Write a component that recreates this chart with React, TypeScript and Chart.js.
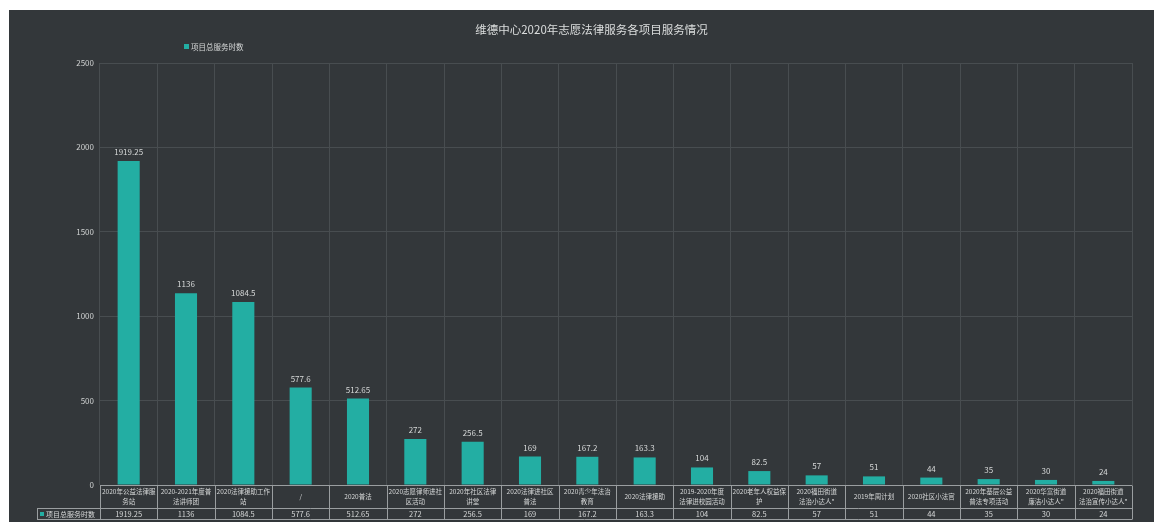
import React, { useEffect, useRef } from "react";
import { Chart, registerables } from "chart.js";

Chart.register(...registerables);

const chartTitle = "维德中心2020年志愿法律服务各项目服务情况";
const seriesName = "项目总服务时数";
const categories: string[][] = [
  ["2020年公益法律服", "务站"],
  ["2020-2021年度普", "法讲师团"],
  ["2020法律援助工作", "站"],
  ["/"],
  ["2020普法"],
  ["2020志愿律师进社", "区活动"],
  ["2020年社区法律", "讲堂"],
  ["2020法律进社区", "普法"],
  ["2020青少年法治", "教育"],
  ["2020法律援助"],
  ["2019-2020年度", "法律进校园活动"],
  ["2020老年人权益保", "护"],
  ["2020福田街道", "法治小达人\""],
  ["2019年周计划"],
  ["2020社区小法官"],
  ["2020年基层公益", "普法专项活动"],
  ["2020华富街道", "廉洁小达人\""],
  ["2020福田街道", "法治宣传小达人\""],
];
const hours: number[] = [
  1919.25, 1136, 1084.5, 577.6, 512.65, 272, 256.5, 169, 167.2, 163.3, 104,
  82.5, 57, 51, 44, 35, 30, 24,
];
const yMin = 0;
const yMax = 2500;
const yStep = 500;

const FONT = '"Noto Sans CJK SC", "Noto Sans", sans-serif';
const BAR = "#23aea3";
const TEXT = "#d6d8d8";
const GRID = "#484d50";
const TABLE_LINE = "#9a9ea0";

const fmt = (v: number) => String(v);

const decorPlugin = {
  id: "decor",
  afterDatasetsDraw(chart: any) {
    const ctx = chart.ctx;
    const meta = chart.getDatasetMeta(0);
    ctx.save();
    ctx.fillStyle = TEXT;
    ctx.font = `8px ${FONT}`;
    ctx.textAlign = "center";
    ctx.textBaseline = "bottom";
    meta.data.forEach((bar: any, i: number) => {
      ctx.fillText(fmt(hours[i]), bar.x, bar.y - 5);
    });
    ctx.restore();
  },
  afterDraw(chart: any) {
    const ctx = chart.ctx;
    const xs = chart.scales.x;
    const area = chart.chartArea;
    const n = categories.length;
    const w = (xs.right - xs.left) / n;
    const r1t = area.bottom + 0.5;
    const r1b = area.bottom + 23.5;
    const r2b = area.bottom + 34.5;
    const headLeft = xs.left - 63;

    ctx.save();
    // title
    ctx.fillStyle = "#dcdede";
    ctx.font = `11.5px ${FONT}`;
    ctx.textAlign = "center";
    ctx.textBaseline = "middle";
    ctx.fillText(chartTitle, chart.width / 2 + 10, 20);

    // legend
    ctx.fillStyle = BAR;
    ctx.fillRect(175, 34, 5, 5);
    ctx.fillStyle = TEXT;
    ctx.font = `7.5px ${FONT}`;
    ctx.textAlign = "left";
    ctx.fillText(seriesName, 182, 37);

    // table lines
    ctx.strokeStyle = TABLE_LINE;
    ctx.lineWidth = 1;
    ctx.beginPath();
    ctx.moveTo(xs.left, r1t);
    ctx.lineTo(xs.right, r1t);
    ctx.moveTo(headLeft, r1b);
    ctx.lineTo(xs.right, r1b);
    ctx.moveTo(headLeft, r2b);
    ctx.lineTo(xs.right, r2b);
    ctx.moveTo(Math.round(headLeft) + 0.5, r1b);
    ctx.lineTo(Math.round(headLeft) + 0.5, r2b);
    for (let i = 0; i <= n; i++) {
      const px = Math.round(xs.left + i * w) + 0.5;
      ctx.moveTo(px, r1t);
      ctx.lineTo(px, r2b);
    }
    ctx.stroke();

    // category labels and values
    ctx.fillStyle = TEXT;
    ctx.textAlign = "center";
    ctx.textBaseline = "middle";
    categories.forEach((lines, i) => {
      const cx = xs.getPixelForValue(i);
      ctx.font = `6.5px ${FONT}`;
      if (lines.length === 1) {
        ctx.fillText(lines[0], cx, (r1t + r1b) / 2);
      } else {
        ctx.fillText(lines[0], cx, r1t + 6.5);
        ctx.fillText(lines[1], cx, r1t + 16.5);
      }
      ctx.font = `7.5px ${FONT}`;
      ctx.fillText(fmt(hours[i]), cx, (r1b + r2b) / 2);
    });

    // header cell
    ctx.fillStyle = BAR;
    ctx.fillRect(headLeft + 3, (r1b + r2b) / 2 - 2, 4, 4);
    ctx.fillStyle = TEXT;
    ctx.font = `7px ${FONT}`;
    ctx.textAlign = "left";
    ctx.fillText(seriesName, headLeft + 9, (r1b + r2b) / 2);
    ctx.restore();
  },
};

export default function App() {
  const ref = useRef<HTMLCanvasElement | null>(null);
  useEffect(() => {
    if (!ref.current) return;
    const chart = new Chart(ref.current, {
      type: "bar",
      data: {
        labels: categories.map((c) => c.join("")),
        datasets: [
          {
            label: seriesName,
            data: hours,
            backgroundColor: BAR,
            borderWidth: 0,
            categoryPercentage: 1,
            barPercentage: 0.385,
          },
        ],
      },
      options: {
        animation: false,
        responsive: true,
        maintainAspectRatio: false,
        layout: { padding: { top: 53, bottom: 37, right: 22, left: 0 } },
        plugins: {
          legend: { display: false },
          title: { display: false },
          tooltip: { enabled: false },
        },
        scales: {
          x: {
            ticks: { display: false },
            grid: { color: GRID, offset: true, drawTicks: false },
            border: { display: false },
          },
          y: {
            min: yMin,
            max: yMax,
            ticks: {
              stepSize: yStep,
              color: "#cfd1d1",
              font: { size: 8, family: FONT },
              padding: 6,
              callback: (v: any) => String(v),
            },
            grid: { color: GRID, drawTicks: false },
            border: { display: false },
            afterFit: (s: any) => {
              s.width = 91;
            },
          },
        },
      },
      plugins: [decorPlugin],
    });
    return () => chart.destroy();
  }, []);
  return (
    <div
      style={{
        position: "fixed",
        left: 9,
        top: 10,
        width: 1145,
        height: 512,
        background: "#33373a",
      }}
    >
      <canvas ref={ref} />
    </div>
  );
}
